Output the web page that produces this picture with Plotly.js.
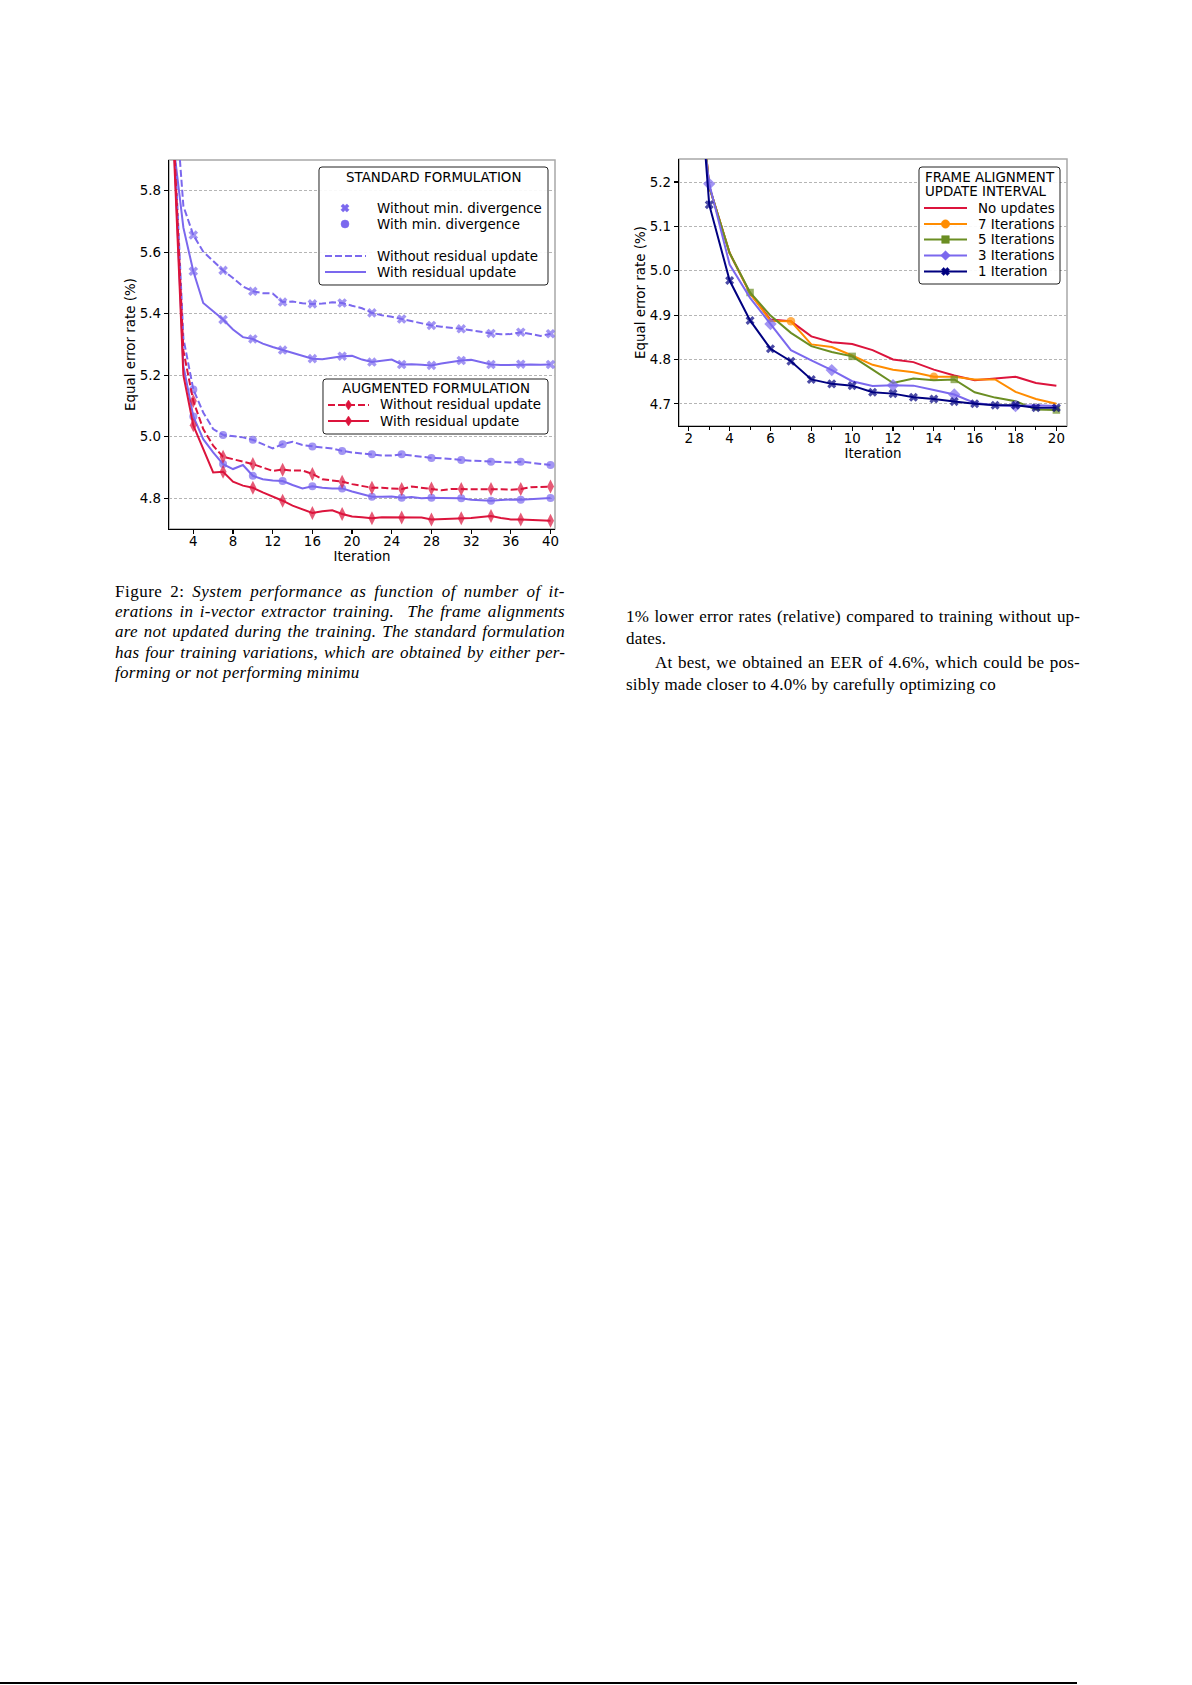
<!DOCTYPE html>
<html><head><meta charset="utf-8">
<script src="https://cdn.plot.ly/plotly-3.0.1.min.js"></script>
<style>
body{margin:0;background:#fff;}
#page{position:relative;width:1192px;height:1685px;overflow:hidden;background:#fff;}
#chart{position:absolute;left:0;top:0;width:1192px;height:1685px;}
.ln{position:absolute;font-family:"Liberation Serif","Times New Roman",serif;font-size:17px;line-height:20px;height:20px;color:#000;white-space:nowrap;}
.it{font-style:italic;}
#rule{position:absolute;left:0;top:1682px;width:1077px;height:2px;background:#000;}
</style></head>
<body>
<div id="page">
<div id="chart"></div>
<div class="ln jl" data-w="450" data-p="a" style="left:115px;top:582px;"><span class="in"><span>Figure 2: </span><span class="it">System performance as function of number of it-</span></span></div>
<div class="ln jl it" data-w="450" data-p="a" style="left:115px;top:602px;"><span class="in">erations in i-vector extractor training. &nbsp;The frame alignments</span></div>
<div class="ln jl it" data-w="450" data-p="a" style="left:115px;top:622px;"><span class="in">are not updated during the training. The standard formulation</span></div>
<div class="ln jl it" data-w="450" data-p="a" style="left:115px;top:643px;"><span class="in">has four training variations, which are obtained by either per-</span></div>
<div class="ln it" data-p="a" style="left:115px;top:663px;"><span class="in">forming or not performing minimu</span></div>
<div class="ln jl" data-w="454" data-p="b" style="left:626px;top:607px;"><span class="in">1% lower error rates (relative) compared to training without up-</span></div>
<div class="ln" data-p="b" style="left:626px;top:629px;"><span class="in">dates.</span></div>
<div class="ln jl" data-w="425" data-p="b" style="left:655px;top:653px;"><span class="in">At best, we obtained an EER of 4.6%, which could be pos-</span></div>
<div class="ln" data-p="b" style="left:626px;top:675px;"><span class="in">sibly made closer to 4.0% by carefully optimizing co</span></div>
<div id="rule"></div>
</div>
<script>
// ---------------- data ----------------
const itersLeft = [1,2,3,4,5,6,7,8,9,10,11,12,13,14,15,16,17,18,19,20,21,22,23,24,25,26,27,28,29,30,31,32,33,34,35,36,37,38,39,40];
const stdNoMinDivNoRes = [7.2,6.18,5.75,5.656,5.602,5.570,5.541,5.516,5.489,5.473,5.467,5.466,5.438,5.440,5.434,5.432,5.433,5.437,5.435,5.426,5.418,5.403,5.395,5.390,5.383,5.376,5.369,5.362,5.358,5.355,5.351,5.346,5.340,5.336,5.333,5.334,5.340,5.333,5.328,5.335];
const stdNoMinDivRes   = [7.0,5.95,5.68,5.538,5.435,5.408,5.381,5.349,5.324,5.318,5.303,5.292,5.282,5.273,5.263,5.254,5.252,5.258,5.262,5.263,5.251,5.243,5.247,5.251,5.235,5.236,5.234,5.232,5.238,5.244,5.248,5.250,5.243,5.235,5.233,5.234,5.236,5.235,5.234,5.235];
const stdMinDivNoRes   = [6.80,6.03,5.32,5.154,5.079,5.025,5.006,5.003,4.998,4.990,4.976,4.962,4.976,4.984,4.973,4.968,4.965,4.962,4.954,4.949,4.946,4.943,4.939,4.939,4.943,4.939,4.934,4.931,4.930,4.927,4.924,4.922,4.921,4.919,4.917,4.916,4.919,4.915,4.911,4.908];
const stdMinDivRes     = [6.75,5.98,5.23,5.066,4.992,4.949,4.911,4.895,4.908,4.873,4.862,4.858,4.856,4.843,4.832,4.839,4.834,4.832,4.832,4.822,4.813,4.805,4.805,4.806,4.802,4.804,4.800,4.802,4.801,4.800,4.800,4.795,4.794,4.792,4.794,4.796,4.795,4.797,4.799,4.801];
const augNoRes         = [6.78,6.00,5.28,5.116,5.025,4.971,4.935,4.927,4.919,4.911,4.900,4.889,4.893,4.890,4.890,4.879,4.862,4.857,4.854,4.846,4.841,4.834,4.834,4.832,4.830,4.838,4.834,4.832,4.826,4.830,4.830,4.831,4.831,4.830,4.829,4.828,4.830,4.836,4.837,4.838];
const augRes           = [6.72,5.96,5.20,5.037,4.960,4.884,4.886,4.854,4.841,4.834,4.819,4.806,4.792,4.776,4.763,4.752,4.758,4.761,4.749,4.741,4.738,4.735,4.738,4.738,4.737,4.736,4.737,4.731,4.732,4.734,4.735,4.736,4.739,4.742,4.736,4.731,4.731,4.729,4.728,4.727];

const itersRight = [1,2,3,4,5,6,7,8,9,10,11,12,13,14,15,16,17,18,19,20];
const noUpdates = [6.4,5.67,5.19,5.04,4.949,4.890,4.886,4.852,4.839,4.835,4.821,4.800,4.794,4.777,4.764,4.753,4.757,4.761,4.747,4.741];
const upd7      = [6.4,5.67,5.19,5.04,4.949,4.887,4.886,4.834,4.828,4.809,4.788,4.777,4.771,4.761,4.761,4.755,4.755,4.727,4.711,4.700];
const upd5      = [6.4,5.67,5.19,5.04,4.951,4.899,4.860,4.830,4.817,4.807,4.777,4.747,4.757,4.753,4.755,4.726,4.714,4.706,4.687,4.686];
const upd3      = [6.3,5.57,5.196,5.014,4.939,4.880,4.821,4.798,4.776,4.751,4.740,4.742,4.741,4.731,4.721,4.702,4.697,4.695,4.697,4.695];
const upd1      = [6.5,5.755,5.149,4.978,4.888,4.824,4.796,4.755,4.745,4.741,4.726,4.723,4.715,4.711,4.705,4.700,4.697,4.697,4.691,4.691];

const legendStd = ['STANDARD FORMULATION','Without min. divergence','With min. divergence','Without residual update','With residual update'];
const legendAug = ['AUGMENTED FORMULATION','Without residual update','With residual update'];
const legendFrame = ['FRAME ALIGNMENT','UPDATE INTERVAL','No updates','7 Iterations','5 Iterations','3 Iterations','1 Iteration'];
const yTitle = 'Equal error rate (%)';
const xTitle = 'Iteration';

// ---------------- styling ----------------
const PURPLE='#7B68EE', RED='#DC143C', ORANGE='#FF8C00', OLIVE='#6B8E23', NAVY='#000080';
const FONT='DejaVu Sans';
const FS=13.4;
const DASH='7px,3px';
const W=1192, H=1685;
const fx=x=>x/W, fy=y=>1-y/H;

function sizes(iters, every, start, sz){
  return iters.map(i => (i>=start && (i-start)%every===0) ? sz : 0);
}
function tr(x,y,xa,ya,color,dash,symbol,msz,name){
  const t={x:x,y:y,xaxis:xa,yaxis:ya,type:'scatter',mode:'lines+markers',name:name,
    line:{color:color,width:2,dash:dash},
    marker:{symbol:symbol,size:msz,color:color,line:{width:0}},
    cliponaxis:true,hoverinfo:'skip',showlegend:false};
  if(msz===null){t.mode='lines';delete t.marker;}
  return t;
}
const data=[
  tr(itersLeft,stdNoMinDivNoRes,'x','y',PURPLE,DASH,'x',sizes(itersLeft,3,4,8.5),'a'),
  tr(itersLeft,stdNoMinDivRes,'x','y',PURPLE,'solid','x',sizes(itersLeft,3,4,8.5),'b'),
  tr(itersLeft,stdMinDivNoRes,'x','y',PURPLE,DASH,'circle',sizes(itersLeft,3,4,8),'c'),
  tr(itersLeft,stdMinDivRes,'x','y',PURPLE,'solid','circle',sizes(itersLeft,3,4,8),'d'),
  tr(itersLeft,augNoRes,'x','y',RED,DASH,'diamond-tall',sizes(itersLeft,3,4,10),'e'),
  tr(itersLeft,augRes,'x','y',RED,'solid','diamond-tall',sizes(itersLeft,3,4,10),'f'),
  tr(itersRight,noUpdates,'x2','y2',RED,'solid','circle',null,'n'),
  tr(itersRight,upd7,'x2','y2',ORANGE,'solid','circle',sizes(itersRight,7,7,8.5),'7'),
  tr(itersRight,upd5,'x2','y2',OLIVE,'solid','square',sizes(itersRight,5,5,7.5),'5'),
  tr(itersRight,upd3,'x2','y2',PURPLE,'solid','diamond',sizes(itersRight,3,3,9.5),'3'),
  tr(itersRight,upd1,'x2','y2',NAVY,'solid','x',sizes(itersRight,1,1,8),'1')
];

function axisX(dom,range,dtick,minor){
  const a={domain:dom,range:range,tickmode:'linear',tick0:0,dtick:dtick,ticks:'outside',ticklen:4,tickwidth:1.2,
    tickcolor:'#000',showline:true,linecolor:'#000',linewidth:1.3,showgrid:false,zeroline:false,automargin:false,
    ticklabelstandoff:-4,
    tickfont:{family:FONT,size:FS,color:'#000'},
    title:{text:xTitle,font:{family:FONT,size:FS,color:'#000'},standoff:2}};
  if(minor) a.minor={dtick:1,tick0:0,ticks:'outside',ticklen:3,tickwidth:1,tickcolor:'#000',showgrid:false};
  return a;
}
function axisY(dom,range,dtick){
  return {domain:dom,range:range,tickmode:'linear',tick0:0,dtick:dtick,tickformat:'.1f',ticks:'outside',ticklen:4,tickwidth:1.2,
    tickcolor:'#000',showline:true,linecolor:'#000',linewidth:1.3,showgrid:true,gridcolor:'#b5b5b5',gridwidth:1,griddash:'3px,2px',
    zeroline:false,automargin:false,tickfont:{family:FONT,size:FS,color:'#000'},
    title:{text:yTitle,font:{family:FONT,size:FS,color:'#000'},standoff:1}};
}

const shapes=[], annotations=[];
[['x','y'],['x2','y2']].forEach(([xa,ya])=>{
  shapes.push({type:'rect',xref:xa+' domain',yref:ya+' domain',x0:0,x1:1,y0:0,y1:1,line:{color:'#a8a8a8',width:1.5},fillcolor:'rgba(0,0,0,0)',layer:'below'});
});
function P(x,y){return fx(x).toFixed(6)+','+fy(y).toFixed(6);}
function roundBox(x0,y0,x1,y1,r){
  const d='M'+P(x0+r,y0)+' L'+P(x1-r,y0)+' Q'+P(x1,y0)+' '+P(x1,y0+r)+' L'+P(x1,y1-r)+' Q'+P(x1,y1)+' '+P(x1-r,y1)+
    ' L'+P(x0+r,y1)+' Q'+P(x0,y1)+' '+P(x0,y1-r)+' L'+P(x0,y0+r)+' Q'+P(x0,y0)+' '+P(x0+r,y0)+' Z';
  shapes.push({type:'path',xref:'paper',yref:'paper',path:d,fillcolor:'rgba(255,255,255,0.92)',line:{color:'#222',width:1},layer:'above'});
}
function seg(x0,x1,y,color,dash){
  shapes.push({type:'line',xref:'paper',yref:'paper',x0:fx(x0),x1:fx(x1),y0:fy(y),y1:fy(y),line:{color:color,width:2,dash:dash},layer:'above'});
}
function poly(pts,color){
  const d='M'+pts.map(p=>P(p[0],p[1])).join(' L')+' Z';
  shapes.push({type:'path',xref:'paper',yref:'paper',path:d,fillcolor:color,line:{color:color,width:0.5},layer:'above'});
}
function mk(sym,cx,cy,s,color){
  if(sym==='circle'){
    shapes.push({type:'circle',xref:'paper',yref:'paper',x0:fx(cx-s),x1:fx(cx+s),y0:fy(cy+s),y1:fy(cy-s),fillcolor:color,line:{color:color,width:0.5},layer:'above'});
  } else if(sym==='square'){
    poly([[cx-s,cy-s],[cx+s,cy-s],[cx+s,cy+s],[cx-s,cy+s]],color);
  } else if(sym==='diamond'){
    poly([[cx,cy-s],[cx+s,cy],[cx,cy+s],[cx-s,cy]],color);
  } else if(sym==='thin'){
    poly([[cx,cy-s],[cx+s*0.65,cy],[cx,cy+s],[cx-s*0.65,cy]],color);
  } else if(sym==='x'){
    const a=s, t=s*0.38, c=Math.SQRT1_2;
    const base=[[t,a],[t,t],[a,t],[a,-t],[t,-t],[t,-a],[-t,-a],[-t,-t],[-a,-t],[-a,t],[-t,t],[-t,a]];
    poly(base.map(([u,v])=>[cx+(u-v)*c,cy+(u+v)*c]),color);
  }
}
function txt(text,x,y,anchor){
  annotations.push({xref:'paper',yref:'paper',x:fx(x),y:fy(y),text:text,showarrow:false,xanchor:anchor||'left',yanchor:'middle',
    font:{family:FONT,size:FS,color:'#000'},borderpad:0});
}

roundBox(319,167,548,285,3);
txt(legendStd[0],433.5,177,'center');
mk('x',345,208,4.2,PURPLE); txt(legendStd[1],376,208);
mk('circle',345,224,4,PURPLE); txt(legendStd[2],376,224);
seg(325,366,256,PURPLE,'7px,3px'); txt(legendStd[3],376,256);
seg(325,366,272,PURPLE,'solid'); txt(legendStd[4],376,272);

roundBox(323,379,548,434,3);
txt(legendAug[0],435.5,389,'center');
seg(328,369,405,RED,'7px,3px'); mk('thin',348.5,405,5,RED); txt(legendAug[1],379,405);
seg(328,369,421,RED,'solid'); mk('thin',348.5,421,5,RED); txt(legendAug[2],379,421);

roundBox(919,167,1060,284,3);
txt(legendFrame[0],924,177); txt(legendFrame[1],924,192);
seg(924,967,208,RED,'solid'); txt(legendFrame[2],977,208);
seg(924,967,224,ORANGE,'solid'); mk('circle',945.5,224,4.2,ORANGE); txt(legendFrame[3],977,224);
seg(924,967,239.5,OLIVE,'solid'); mk('square',945.5,239.5,3.8,OLIVE); txt(legendFrame[4],977,239.5);
seg(924,967,255.5,PURPLE,'solid'); mk('diamond',945.5,255.5,4.8,PURPLE); txt(legendFrame[5],977,255.5);
seg(924,967,271.5,NAVY,'solid'); mk('x',945.5,271.5,4.2,NAVY); txt(legendFrame[6],977,271.5);

const layout={
  width:W,height:H,margin:{l:0,r:0,t:0,b:0},paper_bgcolor:'#fff',plot_bgcolor:'#fff',showlegend:false,
  xaxis:Object.assign(axisX([fx(169),fx(555)],[1.55,40.45],4,false),{anchor:'y'}),
  yaxis:Object.assign(axisY([fy(529),fy(160)],[4.7,5.9],0.2),{anchor:'x'}),
  xaxis2:Object.assign(axisX([fx(679),fx(1067)],[1.52,20.52],2,true),{anchor:'y2'}),
  yaxis2:Object.assign(axisY([fy(426),fy(159)],[4.65,5.252],0.1),{anchor:'x2'}),
  shapes:shapes,annotations:annotations
};
Plotly.newPlot('chart',data,layout,{staticPlot:true,displayModeBar:false});

function fit(){
  const lsByPara={};
  document.querySelectorAll('.jl').forEach(el=>{
    const target=parseFloat(el.dataset.w);
    const span=el.querySelector('span.in');
    span.style.wordSpacing='0px'; span.style.letterSpacing='0px';
    const nat=span.getBoundingClientRect().width;
    const txt=span.textContent;
    const nch=txt.length;
    let ls=(target-nat)*0.5/nch;
    ls=Math.max(-0.3,Math.min(0.8,ls));
    span.style.letterSpacing=ls+'px';
    const nat2=span.getBoundingClientRect().width;
    const n=(txt.match(/[ \u00a0]/g)||[]).length;
    if(n>0) span.style.wordSpacing=((target-nat2)/n)+'px';
    const p=el.dataset.p; (lsByPara[p]=lsByPara[p]||[]).push(ls);
  });
  document.querySelectorAll('.ln:not(.jl)').forEach(el=>{
    const arr=lsByPara[el.dataset.p]||[0];
    const avg=arr.reduce((a,b)=>a+b,0)/arr.length;
    el.querySelector('span.in').style.letterSpacing=avg+'px';
  });
}
if(document.fonts&&document.fonts.ready){document.fonts.ready.then(fit);}else{fit();}
fit();
</script>
</body></html>
